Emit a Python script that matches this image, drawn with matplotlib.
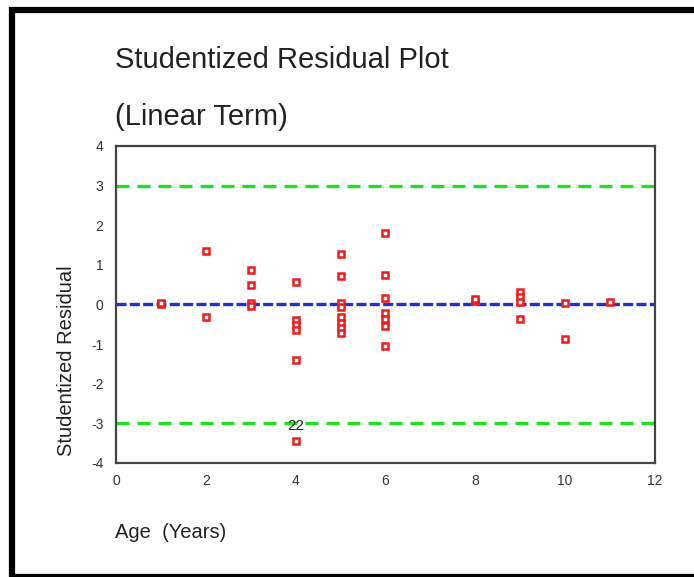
import matplotlib
matplotlib.use("Agg")
import matplotlib.pyplot as plt
from matplotlib.patches import Rectangle

plt.rcParams["axes.unicode_minus"] = False

# Studentized residuals by age (years)
age = [1, 1,
       2, 2,
       3, 3, 3, 3,
       4, 4, 4, 4, 4, 4,
       5, 5, 5, 5, 5, 5, 5, 5,
       6, 6, 6, 6, 6, 6, 6,
       8, 8,
       9, 9, 9, 9,
       10, 10,
       11]
resid = [0.00, 0.03,
         1.35, -0.31,
         0.87, 0.48, 0.05, -0.03,
         0.56, -0.40, -0.53, -0.64, -1.41, -3.45,
         1.27, 0.73, 0.03, -0.07, -0.32, -0.46, -0.59, -0.73,
         1.80, 0.74, 0.16, -0.21, -0.37, -0.54, -1.05,
         0.10, 0.15,
         0.32, 0.20, 0.07, -0.37,
         0.03, -0.88,
         0.07]
limits = [-3, 3]
outlier_id = "22"
outlier_age = 4
outlier_resid = -3.45

xticks = [0, 2, 4, 6, 8, 10, 12]
yticks = [-4, -3, -2, -1, 0, 1, 2, 3, 4]

FONT = ["Liberation Sans", "DejaVu Sans"]
TEXT = "#222222"

fig = plt.figure(figsize=(6.94, 5.77), dpi=100)
ax = fig.add_axes([0.1671, 0.1976, 0.7767, 0.5494])

for lim in limits:
    ax.axhline(lim, color="#22dd22", lw=2.4, dashes=(3.9, 2.4))
ax.axhline(0, color="#1f2fd8", lw=2.4, dashes=(3.0, 1.0), zorder=2)

ax.plot(age, resid, linestyle="none", marker="s", markersize=5,
        markerfacecolor="white", markeredgecolor="#ee1c1c",
        markeredgewidth=1.8, zorder=3)

ax.annotate(outlier_id, (outlier_age, outlier_resid), xytext=(0, 6),
            textcoords="offset points", ha="center", va="bottom",
            fontsize=11, color=TEXT, family=FONT, zorder=4)

ax.set_xlim(0, 12)
ax.set_ylim(-4, 4)
ax.set_xticks(xticks)
ax.set_yticks(yticks)
ax.tick_params(length=0, labelsize=10, colors="#333333")
ax.tick_params(axis="y", pad=9)
ax.tick_params(axis="x", pad=8)
for lbl in ax.get_xticklabels() + ax.get_yticklabels():
    lbl.set_family(FONT)
for sp in ax.spines.values():
    sp.set_color("#444444")
    sp.set_linewidth(1.6)

fig.text(115 / 694, 1 - 60 / 577, "Studentized Residual Plot", ha="left",
         va="center", fontsize=21, color=TEXT, family=FONT)
fig.text(115 / 694, 1 - 117 / 577, "(Linear Term)", ha="left",
         va="center", fontsize=21, color=TEXT, family=FONT)
fig.text(115 / 694, 1 - 533 / 577, "Age  (Years)", ha="left",
         va="center", fontsize=14.5, color=TEXT, family=FONT)
fig.text(66 / 694, 1 - 361 / 577, "Studentized Residual", ha="center",
         va="center", rotation=90, fontsize=14.5, color=TEXT, family=FONT)

# outer black frame, open at the right edge
fig.add_artist(Rectangle((12 / 694, 0.0), 1.2, 1 - 10 / 577,
                         transform=fig.transFigure, fill=False,
                         edgecolor="black", lw=4.5, clip_on=False))

fig.savefig("out.png", dpi=100)
